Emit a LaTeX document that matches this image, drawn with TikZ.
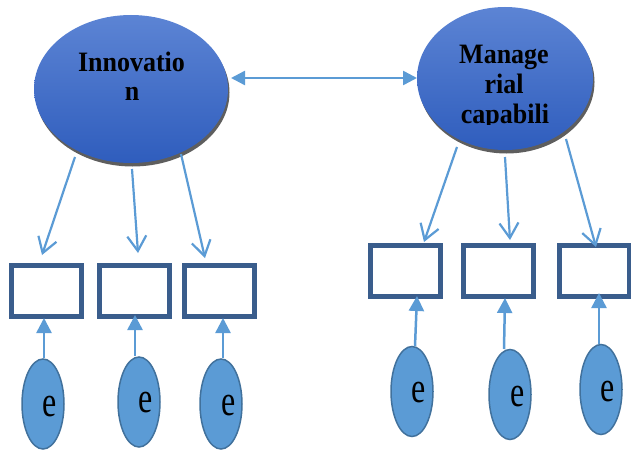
\documentclass[tikz,border=0pt]{standalone}
\usepackage{fontspec}
\setmainfont{Liberation Serif}
\usetikzlibrary{arrows.meta,calc,shapes.geometric,shadows}
\definecolor{arrowblue}{HTML}{5B9BD5}
\definecolor{rectblue}{HTML}{3A5D8C}
\definecolor{eborder}{HTML}{41719C}
\definecolor{lattop}{HTML}{5C84D4}
\definecolor{latbot}{HTML}{2F5DBD}
\definecolor{shadowgray}{HTML}{5E5E5E}
\newcommand{\tallfont}[1]{\scalebox{1}[1.08]{#1}}
\begin{document}
\begin{tikzpicture}[x=1pt,y=1pt,
  latent/.style={ellipse, inner sep=0pt, draw=none, top color=lattop, bottom color=latbot,
    drop shadow={shadow xshift=1.5pt, shadow yshift=-3.5pt, fill=shadowgray, opacity=1}},
  lbl/.style={font=\fontsize{26}{30}\selectfont\bfseries, inner sep=0pt, anchor=base, text=black},
  rectbox/.style={draw=rectblue, line width=5pt, minimum width=70pt, minimum height=51pt, inner sep=0pt, fill=white},
  eell/.style={ellipse, draw=eborder, line width=1.5pt, fill=arrowblue, minimum width=42pt, minimum height=90pt, inner sep=0pt},
  etext/.style={font=\fontsize{32}{32}\selectfont, inner sep=0pt, text=black},
  downarrow/.style={draw=arrowblue, line width=2.2pt, -{Straight Barb[length=15pt,width=19pt]}},
  uparrow/.style={draw=arrowblue, line width=2.5pt, -{Triangle[length=15pt,width=15pt]}},
  dblarrow/.style={draw=arrowblue, line width=2.5pt, {Triangle[length=14pt,width=14pt]}-{Triangle[length=14pt,width=14pt]}}
]
\useasboundingbox (0,0) rectangle (631,451);

% latent variables
\node[latent, minimum width=194pt, minimum height=148pt] (inn) at (131,362) {};
\node[latent, minimum width=176pt, minimum height=143pt] (mgr) at (505,372.5) {};

\node[lbl] (inn1) at (131.5,380) {\tallfont{Innovatio}};
\node[lbl] (inn2) at (132,351) {\tallfont{n}};
\node[lbl] (mgr1) at (504,388) {\tallfont{Manage}};
\node[lbl] (mgr2) at (504,358) {\tallfont{rial}};
\begin{scope}
  \clip (400,327) rectangle (610,360);
  \node[lbl] (mgr3) at (505,327.5) {\tallfont{capabili}};
\end{scope}

% indicators
\node[rectbox] (r1) at (46.5,160) {};
\node[rectbox] (r2) at (134.5,160) {};
\node[rectbox] (r3) at (219.5,160) {};
\node[rectbox] (r4) at (405.5,180) {};
\node[rectbox] (r5) at (498.5,180) {};
\node[rectbox] (r6) at (594.5,180) {};

% error terms
\node[eell] (e1) at (43,47) {};
\node[eell] (e2) at (139,49) {};
\node[eell] (e3) at (221,47) {};
\node[eell] (e4) at (412,59.5) {};
\node[eell] (e5) at (510,56.5) {};
\node[eell] (e6) at (601,61.5) {};

\node[etext] (t1) at (50,44) {\scalebox{1}[1.35]{e}};
\node[etext] (t2) at (146,48.5) {\scalebox{1}[1.35]{e}};
\node[etext] (t3) at (229,45) {\scalebox{1}[1.35]{e}};
\node[etext] (t4) at (419,58) {\scalebox{1}[1.35]{e}};
\node[etext] (t5) at (517.5,54) {\scalebox{1}[1.35]{e}};
\node[etext] (t6) at (608,59) {\scalebox{1}[1.35]{e}};

% covariance
\draw[dblarrow] ($(inn.center)+(100,11)$) -- ($(mgr.center)+(-88,0.5)$);

% loadings
\draw[downarrow] ($(inn.center)+(-56,-68)$) -- ($(r1.center)+(-4.5,36)$);
\draw[downarrow] ($(inn.center)+(1,-80)$) -- ($(r2.center)+(3.5,38)$);
\draw[downarrow] ($(inn.center)+(50,-65)$) -- ($(r3.center)+(-14.5,33)$);
\draw[downarrow] ($(mgr.center)+(-48,-68.5)$) -- ($(r4.center)+(18.5,29)$);
\draw[downarrow] ($(mgr.center)+(0,-78.5)$) -- ($(r5.center)+(11.5,31)$);
\draw[downarrow] ($(mgr.center)+(61,-60.5)$) -- ($(r6.center)+(1.5,24)$);

% error paths
\draw[uparrow] ($(e1.center)+(1,46)$) -- ($(r1.center)+(-2.5,-27)$);
\draw[uparrow] ($(e2.center)+(-4,46)$) -- ($(r2.center)+(0.5,-24)$);
\draw[uparrow] ($(e3.center)+(2,46)$) -- ($(r3.center)+(3.5,-27)$);
\draw[uparrow] ($(e4.center)+(3,45.5)$) -- ($(r4.center)+(11.5,-25)$);
\draw[uparrow] ($(e5.center)+(-6,45.5)$) -- ($(r5.center)+(6.5,-27)$);
\draw[uparrow] ($(e6.center)+(-2,45.5)$) -- ($(r6.center)+(4.5,-22)$);
\end{tikzpicture}
\end{document}
